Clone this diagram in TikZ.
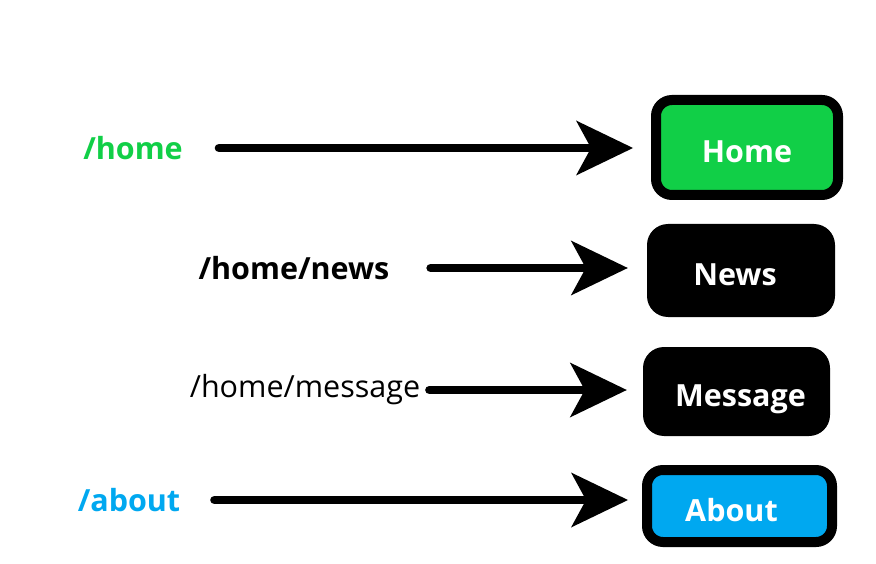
\documentclass[tikz,border=0pt]{standalone}
\usepackage{fontspec}
\setmainfont{Open Sans}
\usetikzlibrary{arrows.meta}

\definecolor{routegreen}{RGB}{17,207,71}
\definecolor{routeblue}{RGB}{0,168,240}

\tikzset{
	routelabel/.style={inner sep=0pt, font=\fontsize{30.5}{36}\selectfont},
	routebold/.style={inner sep=0pt, font=\fontsize{30.5}{36}\selectfont\bfseries},
	viewbox/.style={inner sep=0pt, text=white, text height=30pt, text depth=0pt,
		font=\fontsize{30.5}{36}\selectfont\bfseries},
	link/.style={-{Stealth[length=57pt, width=55pt, inset=15pt, line width'=0pt]}, line width=8.5pt, line cap=round, black}
}

\begin{document}
\begin{tikzpicture}[x=1pt, y=-1pt]
	\useasboundingbox (0,0) rectangle (876,564);

	\node[routebold, text=routegreen] (lhome)    at (133,148) {/home};
	\node[routebold]                  (lnews)    at (294,268) {/home/news};
	\node[routelabel]                 (lmessage) at (305,390) {/home/message};
	\node[routebold, text=routeblue]  (labout)   at (129,500) {/about};

	\node[viewbox, draw=black, line width=10pt, fill=routegreen, rounded corners=16pt,
		minimum width=182pt, minimum height=95pt]  (home)    at (747,147.5) {Home};
	\node[viewbox, fill=black, rounded corners=21pt,
		minimum width=188pt, minimum height=93pt]  (news)    at (741,270.5) {News\hspace{12pt}\mbox{}};
	\node[viewbox, fill=black, rounded corners=21pt,
		minimum width=187pt, minimum height=89pt]  (message) at (736.5,391.5) {\hspace{8pt}Message};
	\node[viewbox, draw=black, line width=10pt, fill=routeblue, rounded corners=16pt,
		minimum width=185pt, minimum height=72pt]  (about)   at (739.5,506) {About\hspace{16pt}\mbox{}};

	\path [link, shorten <=36pt, shorten >=18pt] (lhome)    edge (lhome -| home.west);
	\path [link, shorten <=41pt, shorten >=19pt] (lnews)    edge (lnews -| news.west);
	\path [link, shorten <=9pt,  shorten >=16pt] (lmessage) edge (lmessage -| message.west);
	\path [link, shorten <=34pt, shorten >=14pt] (labout)   edge (labout -| about.west);
\end{tikzpicture}
\end{document}
